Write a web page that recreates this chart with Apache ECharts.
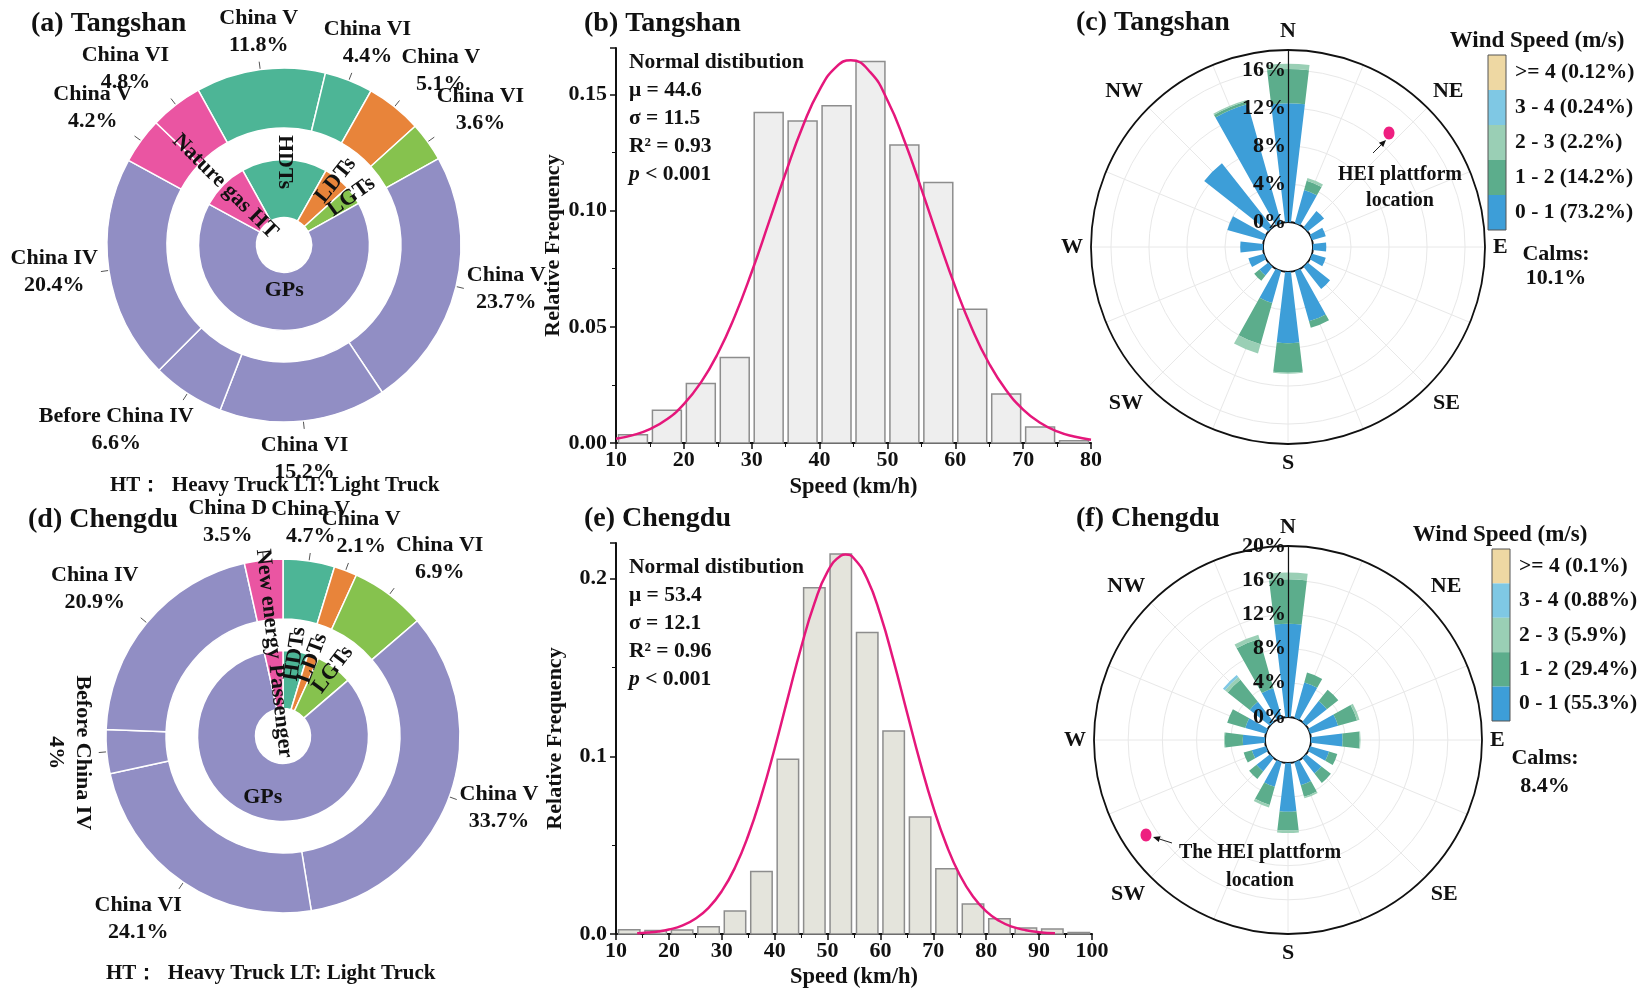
<!DOCTYPE html>
<html>
<head>
<meta charset="utf-8">
<script src="https://cdn.jsdelivr.net/npm/echarts@6/dist/echarts.min.js"></script>
<style>
html, body { margin: 0; background: #fff; }
#main { width: 1639px; height: 990px; }
</style>
</head>
<body>
<div id="main"></div>
<script>
var F = 'Liberation Serif';

// (a) Tangshan fleet (%), clockwise from the HDT China V slice
var tsOuterNames = ['China V', 'China VI', 'China V', 'China VI', 'China V', 'China VI', 'Before China IV', 'China IV', 'China V', 'China VI'];
var tsOuterVals = [11.8, 4.4, 5.1, 3.6, 23.7, 15.2, 6.6, 20.4, 4.2, 4.8];
var tsOuterGroup = ['HDTs', 'HDTs', 'LDTs', 'LGTs', 'GPs', 'GPs', 'GPs', 'GPs', 'Nature gas HT', 'Nature gas HT'];
var tsInnerNames = ['HDTs', 'LDTs', 'LGTs', 'GPs', 'Nature gas HT'];
var tsInnerVals = [16.2, 5.1, 3.6, 65.9, 9.0];

// (d) Chengdu fleet (%)
var cdOuterNames = ['China V', 'China V', 'China VI', 'China V', 'China VI', 'Before China IV', 'China IV', 'China D'];
var cdOuterVals = [4.7, 2.1, 6.9, 33.7, 24.1, 4, 20.9, 3.5];
var cdOuterGroup = ['HDTs', 'LDTs', 'LGTs', 'GPs', 'GPs', 'GPs', 'GPs', 'New energy Passenger'];
var cdInnerNames = ['HDTs', 'LDTs', 'LGTs', 'GPs', 'New energy Passenger'];
var cdInnerVals = [4.7, 2.1, 6.9, 82.7, 3.5];

// (b) / (e) speed histograms, 5 km/h bins
var binWidth = 5;
var tsBins = [10, 15, 20, 25, 30, 35, 40, 45, 50, 55, 60, 65, 70, 75];
var tsFreq = [0.0036, 0.0141, 0.0256, 0.0368, 0.1422, 0.1386, 0.1451, 0.1642, 0.1283, 0.1121, 0.0576, 0.0211, 0.0069, 0.0010];
var tsCurveX = [10, 12.5, 15, 17.5, 20, 22.5, 25, 27.5, 30, 32.5, 35, 37.5, 40, 42.5, 44.6, 47.5, 50, 52.5, 55, 57.5, 60, 62.5, 65, 67.5, 70, 72.5, 75, 77.5, 80];
var tsCurveY = [0.0018, 0.0034, 0.0060, 0.0102, 0.0167, 0.0260, 0.0385, 0.0545, 0.0736, 0.0947, 0.1162, 0.1361, 0.1520, 0.1620, 0.1647, 0.1595, 0.1475, 0.1301, 0.1094, 0.0878, 0.0672, 0.0490, 0.0341, 0.0227, 0.0144, 0.0087, 0.0050, 0.0028, 0.0014];

var cdBins = [10, 15, 20, 25, 30, 35, 40, 45, 50, 55, 60, 65, 70, 75, 80, 85, 90, 95];
var cdFreq = [0.0024, 0.0019, 0.0022, 0.0041, 0.0130, 0.0352, 0.0983, 0.1948, 0.2138, 0.1696, 0.1142, 0.0659, 0.0367, 0.0169, 0.0086, 0.0034, 0.0028, 0.0009];
var cdCurveX = [14, 16, 18, 20, 22.5, 25, 27.5, 30, 32.5, 35, 37.5, 40, 42.5, 45, 47.5, 50, 52.5, 53.4, 55, 57.5, 60, 62.5, 65, 67.5, 70, 72.5, 75, 77.5, 80, 82.5, 85, 87.5, 90, 93];
var cdCurveY = [0.0004, 0.0008, 0.0014, 0.0025, 0.0047, 0.0086, 0.0147, 0.0241, 0.0374, 0.0554, 0.0780, 0.1044, 0.1330, 0.1612, 0.1859, 0.2039, 0.2128, 0.2135, 0.2113, 0.1997, 0.1795, 0.1535, 0.1249, 0.0967, 0.0712, 0.0499, 0.0332, 0.0211, 0.0127, 0.0073, 0.0040, 0.0021, 0.0010, 0.0004];

// (c) / (f) wind roses, frequency (%) per direction and speed class
var dirs = ['N', 'NNE', 'NE', 'ENE', 'E', 'ESE', 'SE', 'SSE', 'S', 'SSW', 'SW', 'WSW', 'W', 'WNW', 'NW', 'NNW'];
var tsClassNames = ['0 - 1 (73.2%)', '1 - 2 (14.2%)', '2 - 3 (2.2%)', '3 - 4 (0.24%)', '>= 4 (0.12%)'];
var tsWind = [
    [12.5, 3.6, 2.2, 1.5, 1.4, 1.5, 3.0, 5.5, 7.5, 3.5, 1.2, 1.7, 2.4, 4.0, 8.6, 13.0],
    [3.6, 1.0, 0, 0, 0, 0, 0, 0.7, 3.1, 4.5, 0.7, 0, 0, 0, 0, 0.3],
    [0.55, 0.3, 0, 0, 0, 0, 0, 0, 0.1, 1.0, 0, 0, 0, 0, 0, 0.15],
    [0, 0, 0, 0, 0, 0, 0, 0, 0, 0, 0, 0, 0, 0, 0, 0],
    [0, 0, 0, 0, 0, 0, 0, 0, 0, 0, 0, 0, 0, 0, 0, 0]
];
var cdClassNames = ['0 - 1 (55.3%)', '1 - 2 (29.4%)', '2 - 3 (5.9%)', '3 - 4 (0.88%)', '>= 4 (0.1%)'];
var cdWind = [
    [10.9, 4.3, 3.1, 3.4, 3.7, 2.3, 2.3, 2.8, 5.7, 3.0, 2.0, 1.7, 2.6, 2.5, 3.0, 3.6],
    [5.2, 1.2, 1.7, 2.3, 2.0, 1.0, 1.4, 1.4, 2.2, 2.2, 1.1, 1.0, 2.1, 2.2, 3.3, 6.0],
    [0.8, 0, 0, 0.3, 0.1, 0, 0, 0.2, 0.3, 0.3, 0, 0, 0.1, 0, 0.4, 0.5],
    [0, 0, 0, 0, 0, 0, 0, 0, 0, 0, 0, 0, 0, 0, 0.3, 0],
    [0, 0, 0, 0, 0, 0, 0, 0, 0, 0, 0, 0, 0, 0, 0, 0]
];

var groupColor = {
    'HDTs': '#4db596', 'LDTs': '#e8843a', 'LGTs': '#86c24e', 'GPs': '#918ec4',
    'Nature gas HT': '#ea55a2', 'New energy Passenger': '#ea55a2'
};
var classColors = ['#3d9ed8', '#5cad8c', '#9acfb5', '#7fc8e4', '#eed8a3'];
var bold = { fontFamily: F, fontWeight: 'bold', color: '#111' };

function txt(o) { return Object.assign({}, bold, o); }

// push the outside labels out along their label line; nudge sideways when two collide badly
var placed = {};
function outsideLabel(p) {
    var pts = p.labelLinePoints;
    if (!pts) return {};
    var dx = pts[1][0] - pts[0][0], dy = pts[1][1] - pts[0][1];
    var len = Math.sqrt(dx * dx + dy * dy) || 1;
    var ux = dx / len, uy = dy / len;
    var w = p.labelRect.width, h = p.labelRect.height;
    function f(u) {
        var a = Math.min(1, Math.max(0, (Math.abs(u) - 0.25) / 0.35));
        return u < 0 ? -a : a;
    }
    var cx = pts[2][0] + f(ux) * w / 2 + ux * 3;
    var cy = pts[2][1] + f(uy) * h / 2 + uy * 3;
    if (p.dataIndex === 0 || !placed[p.seriesIndex]) placed[p.seriesIndex] = [];
    var list = placed[p.seriesIndex];
    list.forEach(function (r) {
        var ox = Math.min(cx + w / 2, r.x + r.w / 2) - Math.max(cx - w / 2, r.x - r.w / 2);
        var oy = Math.min(cy + h / 2, r.y + r.h / 2) - Math.max(cy - h / 2, r.y - r.h / 2);
        if (ox > 0 && oy > 0 && ox * oy > 0.3 * Math.min(w * h, r.w * r.h)) {
            cx = ux >= 0 ? r.x + r.w / 2 + w / 2 + 4 : r.x - r.w / 2 - w / 2 - 4;
        }
    });
    list.push({ x: cx, y: cy, w: w, h: h });
    return { x: cx, y: cy, align: 'center', verticalAlign: 'middle', labelLinePoints: pts };
}

function donut(center, oNames, oVals, oGroup, iNames, iVals, startAngle, opt) {
    var outer = {
        type: 'pie', center: center, radius: [117, 177], startAngle: startAngle,
        avoidLabelOverlap: false,
        itemStyle: { borderColor: '#fff', borderWidth: 1.5 },
        label: txt({ show: true, position: 'outside', formatter: '{b}\n{c}%', fontSize: 22, lineHeight: 27 }),
        labelLine: { show: true, length: 8, length2: 0, lineStyle: { color: '#555', width: 1 } },
        labelLayout: outsideLabel,
        data: oVals.map(function (v, i) {
            var d = { name: oNames[i], value: v, itemStyle: { color: groupColor[oGroup[i]] } };
            if (i === opt.rotated) d.label = { rotate: -90 };
            return d;
        })
    };
    var inner = {
        type: 'pie', center: center, radius: [27.5, 85.5], startAngle: startAngle,
        avoidLabelOverlap: false,
        itemStyle: { borderColor: '#fff', borderWidth: 1.5 },
        label: { show: false },
        labelLine: { show: false },
        data: iVals.map(function (v, i) {
            return { name: iNames[i], value: v, itemStyle: { color: groupColor[iNames[i]] } };
        })
    };
    // label layers for the inner ring names: radial names, and the horizontal GPs
    function names(radius, radial) {
        return {
            type: 'pie', center: center, radius: radius, startAngle: startAngle,
            silent: true, avoidLabelOverlap: false, z: 5,
            itemStyle: { color: 'rgba(0,0,0,0)', borderWidth: 0 },
            label: txt({ show: true, position: 'inside', rotate: radial ? 'radial' : 0, fontSize: 22 }),
            labelLine: { show: false },
            labelLayout: { hideOverlap: false },
            data: iVals.map(function (v, i) {
                var d = { name: iNames[i], value: v };
                var isGP = iNames[i] === 'GPs';
                if (radial === isGP) d.label = { show: false };
                else if (radial && i === opt.flip) d.label = { rotate: -90 };
                return d;
            })
        };
    }
    return [outer, inner, names([50, 110], true), names(opt.gpRadius, false)];
}

function histBars(idx, bins, freq, fill) {
    return {
        type: 'custom', xAxisIndex: idx, yAxisIndex: idx, z: 3,
        data: bins.map(function (b, i) { return [b, b + binWidth, freq[i]]; }),
        encode: { x: [0, 1], y: 2 },
        renderItem: function (params, api) {
            var a = api.coord([api.value(0), api.value(2)]);
            var b = api.coord([api.value(1), 0]);
            return {
                type: 'rect',
                shape: { x: a[0] + 2.5, y: a[1], width: b[0] - a[0] - 5, height: b[1] - a[1] },
                style: { fill: fill, stroke: '#8d8d8d', lineWidth: 1.5 }
            };
        }
    };
}

function curve(idx, xs, ys) {
    return {
        type: 'line', xAxisIndex: idx, yAxisIndex: idx, z: 6,
        data: xs.map(function (x, i) { return [x, ys[i]]; }),
        smooth: true, showSymbol: false,
        lineStyle: { color: '#e5177b', width: 2.5 }
    };
}

function histX(idx, max, gap) {
    return {
        gridIndex: idx, type: 'value', min: 10, max: max, interval: 10,
        axisLine: { show: true, lineStyle: { color: '#111', width: 2 } },
        axisTick: { show: true, length: 6, lineStyle: { color: '#111', width: 1.5 } },
        minorTick: { show: true, splitNumber: 2, length: 4, lineStyle: { color: '#111', width: 1 } },
        splitLine: { show: false },
        axisLabel: txt({ fontSize: 22, margin: 6 }),
        name: 'Speed (km/h)', nameLocation: 'middle', nameGap: gap,
        nameTextStyle: txt({ fontSize: 22.5 })
    };
}

function histY(idx, max, interval, digits) {
    return {
        gridIndex: idx, type: 'value', min: 0, max: max, interval: interval,
        axisLine: { show: true, lineStyle: { color: '#111', width: 2 } },
        axisTick: { show: true, length: 6, lineStyle: { color: '#111', width: 1.5 } },
        minorTick: { show: true, splitNumber: 2, length: 4, lineStyle: { color: '#111', width: 1 } },
        splitLine: { show: false },
        axisLabel: txt({ fontSize: 22, margin: 9, showMaxLabel: false, formatter: function (v) { return v.toFixed(digits); } }),
        name: 'Relative Frequency', nameLocation: 'middle', nameGap: 50,
        nameTextStyle: txt({ fontSize: 22 })
    };
}

function statText(top, mu, sigma, r2) {
    var b = { fontFamily: F, fontWeight: 'bold', fontSize: 21.5, lineHeight: 28, fill: '#111' };
    return {
        type: 'text', left: 629, top: top, z: 20,
        style: {
            text: '{b|Normal distibution}\n{b|μ = ' + mu + '}\n{b|σ = ' + sigma + '}\n{b|R² = ' + r2 + '}\n{i|p}{b| < 0.001}',
            rich: { b: b, i: Object.assign({}, b, { fontStyle: 'italic' }) }
        }
    };
}

function roseSeries(polarIdx, stack, wind, classNames) {
    return wind.map(function (vals, k) {
        return {
            type: 'bar', coordinateSystem: 'polar', polarIndex: polarIdx, stack: stack,
            name: classNames[k], data: vals, barWidth: '60%', z: 3,
            itemStyle: { color: classColors[k] }
        };
    });
}

function roseAxes(barPolar, gridPolar, max, showMax) {
    var angle = [{
        polarIndex: barPolar, type: 'category', data: dirs, startAngle: 90 + 360 / dirs.length / 2,
        axisLine: { show: false }, axisTick: { show: false }, splitLine: { show: false },
        axisLabel: txt({ fontSize: 22, margin: 8, interval: 1 })
    }, {
        polarIndex: gridPolar, type: 'value', min: 0, max: 360, interval: 22.5, startAngle: 90,
        axisLine: { show: true, lineStyle: { color: '#111', width: 1.8 } },
        axisTick: { show: false }, axisLabel: { show: false },
        splitLine: { show: true, lineStyle: { color: '#e8e8e8', width: 1 } }
    }];
    var radius = [{
        polarIndex: barPolar, type: 'value', min: 0, max: max, interval: 4,
        axisLine: { show: false }, axisTick: { show: false }, axisLabel: { show: false },
        splitLine: { show: true, lineStyle: { color: '#e8e8e8', width: 1 } }
    }, {
        polarIndex: gridPolar, type: 'value', min: 0, max: max, interval: 4, z: 10,
        axisLine: { show: true, lineStyle: { color: '#111', width: 1.2 } },
        axisTick: { show: false }, splitLine: { show: false },
        axisLabel: txt({ fontSize: 22, margin: 2, showMaxLabel: showMax, formatter: '{value}%' })
    }];
    return { angle: angle, radius: radius };
}

function roseLegend(left, top, h, names) {
    return {
        orient: 'vertical', left: left, top: top, itemWidth: 18, itemHeight: h, itemGap: 0,
        icon: 'rect', padding: 0, selectedMode: false,
        data: names.slice().reverse(),
        textStyle: txt({ fontSize: 21.5, padding: [0, 0, 0, 4] })
    };
}

function pin(cx, cy, x0, y0, x1, y1) {
    var ang = Math.atan2(y1 - y0, x1 - x0);
    var hx = x1 - 7 * Math.cos(ang), hy = y1 - 7 * Math.sin(ang);
    var nx = -Math.sin(ang) * 3, ny = Math.cos(ang) * 3;
    return [
        { type: 'line', z: 20, shape: { x1: x0, y1: y0, x2: hx, y2: hy }, style: { stroke: '#222', lineWidth: 1 } },
        { type: 'polygon', z: 20, shape: { points: [[x1, y1], [hx + nx, hy + ny], [hx - nx, hy - ny]] }, style: { fill: '#111' } },
        { type: 'ellipse', z: 20, shape: { cx: cx, cy: cy, rx: 5.5, ry: 6.5 }, style: { fill: '#ee1f80' } }
    ];
}

var chart = echarts.init(document.getElementById('main'));

var roseC = roseAxes(0, 1, 18.1, false);
var roseF = roseAxes(2, 3, 20, true);

var series = []
    .concat(donut([284, 245], tsOuterNames, tsOuterVals, tsOuterGroup, tsInnerNames, tsInnerVals, 119,
        { rotated: -1, flip: 0, gpRadius: [10, 74] }))
    .concat(donut([283, 736], cdOuterNames, cdOuterVals, cdOuterGroup, cdInnerNames, cdInnerVals, 90,
        { rotated: 5, flip: -1, gpRadius: [27.5, 95] }))
    .concat([histBars(0, tsBins, tsFreq, '#eeeeee'), curve(0, tsCurveX, tsCurveY)])
    .concat([histBars(1, cdBins, cdFreq, '#e4e4dc'), curve(1, cdCurveX, cdCurveY)])
    .concat(roseSeries(0, 'ts', tsWind, tsClassNames))
    .concat(roseSeries(2, 'cd', cdWind, cdClassNames));

var htText = 'HT：  Heavy Truck LT: Light Truck';

var option = {
    animation: false,
    backgroundColor: '#fff',
    textStyle: { fontFamily: F, fontWeight: 'bold' },
    title: [
        { text: '(a) Tangshan', left: 31, top: 10 },
        { text: '(b) Tangshan', left: 584, top: 10 },
        { text: '(c) Tangshan', left: 1076, top: 9 },
        { text: '(d) Chengdu', left: 28, top: 506 },
        { text: '(e) Chengdu', left: 584, top: 505 },
        { text: '(f) Chengdu', left: 1076, top: 505 }
    ].map(function (t) {
        t.padding = 0;
        t.textStyle = txt({ fontSize: 28 });
        return t;
    }),
    grid: [
        { left: 616, top: 48, width: 475, height: 395 },
        { left: 616, top: 543, width: 476, height: 395 }
    ],
    xAxis: [histX(0, 80, 33), histX(1, 100, 32)],
    yAxis: [histY(0, 0.17, 0.05, 2), histY(1, 0.22, 0.1, 1)],
    polar: [
        { center: [1288, 247], radius: [25, 197] },
        { center: [1288, 247], radius: [25, 197] },
        { center: [1288, 740], radius: [23, 194] },
        { center: [1288, 740], radius: [23, 194] }
    ],
    angleAxis: roseC.angle.concat(roseF.angle),
    radiusAxis: roseC.radius.concat(roseF.radius),
    legend: [
        roseLegend(1488, 55, 35, tsClassNames),
        roseLegend(1492, 549, 34.4, cdClassNames)
    ],
    graphic: [
        { type: 'text', left: 110, top: 475, style: txt({ text: htText, fontSize: 21, fill: '#111' }) },
        { type: 'text', left: 106, top: 963, style: txt({ text: htText, fontSize: 21, fill: '#111' }) },
        statText(51, '44.6', '11.5', '0.93'),
        statText(556, '53.4', '12.1', '0.96'),
        { type: 'text', x: 1537, y: 30, style: txt({ text: 'Wind Speed (m/s)', fontSize: 23, fill: '#111', align: 'center' }) },
        { type: 'text', x: 1500, y: 524, style: txt({ text: 'Wind Speed (m/s)', fontSize: 23, fill: '#111', align: 'center' }) },
        { type: 'rect', z: 20, shape: { x: 1488, y: 55, width: 18, height: 175 }, style: { fill: 'none', stroke: '#555', lineWidth: 1 } },
        { type: 'rect', z: 20, shape: { x: 1492, y: 549, width: 18, height: 172 }, style: { fill: 'none', stroke: '#555', lineWidth: 1 } },
        { type: 'text', x: 1556, y: 242, style: txt({ text: 'Calms:\n10.1%', fontSize: 22, lineHeight: 24, fill: '#111', align: 'center' }) },
        { type: 'text', x: 1545, y: 744, style: txt({ text: 'Calms:\n8.4%', fontSize: 22, lineHeight: 28, fill: '#111', align: 'center' }) },
        { type: 'text', x: 1400, y: 162, z: 20, style: txt({ text: 'HEI plattform\nlocation', fontSize: 20, lineHeight: 26, fill: '#111', align: 'center' }) },
        { type: 'text', x: 1260, y: 839, z: 20, style: txt({ text: 'The HEI plattform\nlocation', fontSize: 20, lineHeight: 28, fill: '#111', align: 'center' }) }
    ].concat(pin(1389, 133, 1373, 153, 1386, 140)).concat(pin(1146, 835, 1172, 843, 1153, 837)),
    series: series
};

chart.setOption(option);
</script>
</body>
</html>
